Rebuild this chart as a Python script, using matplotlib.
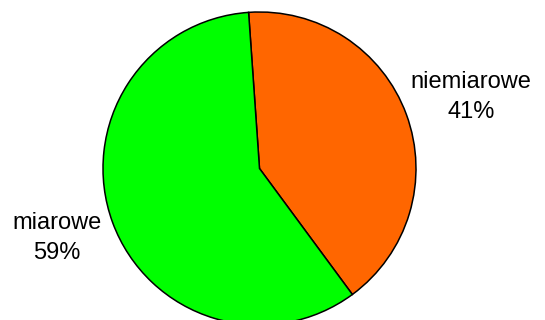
import matplotlib.pyplot as plt

# Data
labels = ["niemiarowe", "miarowe"]
shares = [41, 59]
colors = ["#FF6600", "#00FF00"]

plt.rcParams["font.family"] = ["Liberation Sans", "DejaVu Sans"]

fig = plt.figure(figsize=(5.45, 3.2), dpi=100)
ax = fig.add_axes([0, 0, 1, 1])

ax.pie(shares, colors=colors, startangle=94, counterclock=False,
       center=(259.5, 151.5), radius=156.5,
       wedgeprops=dict(edgecolor="black", linewidth=1.1))

ax.set_xlim(0, 545)
ax.set_ylim(0, 320)
ax.set_aspect("equal")
ax.axis("off")

# Labels outside the pie
label_pos = [(471, 223), (57, 82)]
for lab, val, (x, y) in zip(labels, shares, label_pos):
    ax.text(x, y, f"{lab}\n{val}%", ha="center", va="center",
            fontsize=17, linespacing=1.45, color="black")

fig.savefig("out.png", dpi=100)
